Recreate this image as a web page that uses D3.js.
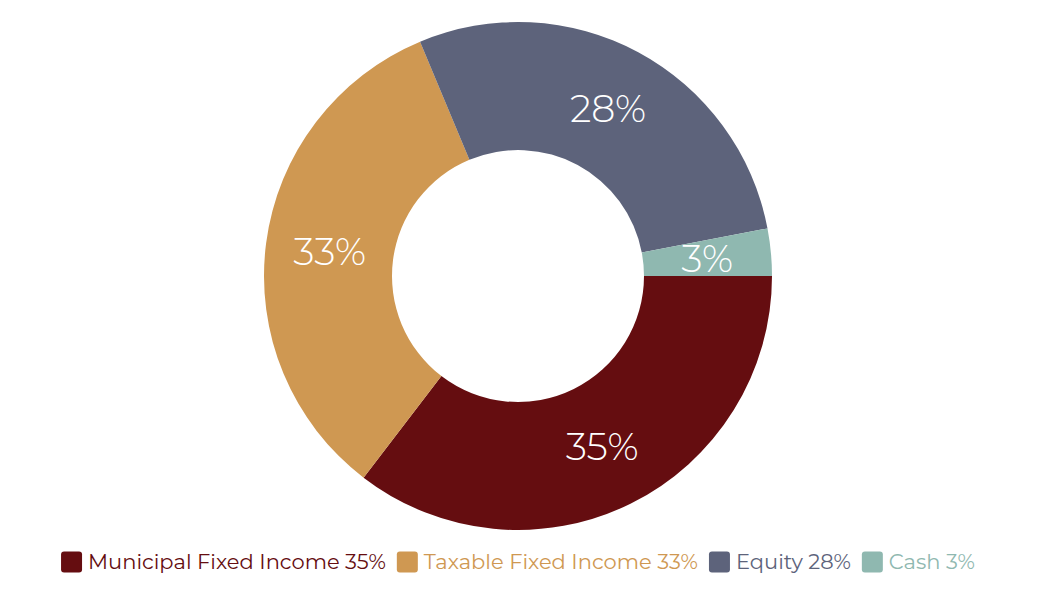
<!DOCTYPE html>
<html><head><meta charset="utf-8">
<script src="https://cdn.jsdelivr.net/npm/d3@7"></script>
<style>html,body{margin:0;padding:0;background:#fff;}</style>
</head><body>
<svg id="chart" width="1048" height="595"></svg>
<script>
const categories = ["Municipal Fixed Income", "Taxable Fixed Income", "Equity", "Cash"];
const values = [35.4, 33.3, 28.3, 3.0];
const labels = ["35%", "33%", "28%", "3%"];
const colors = ["#650d10", "#cf9852", "#5d637b", "#8fb8b0"];

const svg = d3.select("#chart");
const cx = 518, cy = 276, outerR = 254, innerR = 126;
const fontFam = "Montserrat, 'Open Sans', Lato, sans-serif";

const pie = d3.pie().sort(null).value(d => d.v)
  .startAngle(Math.PI / 2).endAngle(Math.PI / 2 + 2 * Math.PI);
const data = categories.map((c, i) => ({c, v: values[i], l: labels[i], col: colors[i]}));
const arcs = pie(data);
const arc = d3.arc().innerRadius(innerR).outerRadius(outerR);

const g = svg.append("g").attr("transform", `translate(${cx},${cy})`);
g.selectAll("path").data(arcs).enter().append("path")
  .attr("d", arc).attr("fill", d => d.data.col);

g.selectAll("text").data(arcs).enter().append("text")
  .attr("transform", d => `translate(${arc.centroid(d)})`)
  .attr("text-anchor", "middle").attr("dy", "0.36em")
  .attr("fill", "#fff").style("font-family", fontFam)
  .style("font-weight", 300).style("font-size", "38px")
  .text(d => d.data.l);

// legend
const lg = svg.append("g");
const items = lg.selectAll("g.item").data(data).enter().append("g").attr("class", "item");
items.append("rect").attr("width", 21).attr("height", 21).attr("rx", 3).attr("ry", 3)
  .attr("y", -10.5).attr("fill", d => d.col);
items.append("text").attr("x", 27).attr("dy", "0.35em")
  .style("font-family", fontFam).style("font-size", "21px")
  .attr("fill", d => d.col)
  .text((d, i) => d.c + " " + labels[i]);
let x = 0;
items.each(function () {
  const w = d3.select(this).select("text").node().getComputedTextLength();
  d3.select(this).attr("transform", `translate(${x},0)`);
  x += 27 + w + 11;
});
const total = x - 11;
lg.attr("transform", `translate(${cx - total / 2},562)`);
</script>
</body></html>
